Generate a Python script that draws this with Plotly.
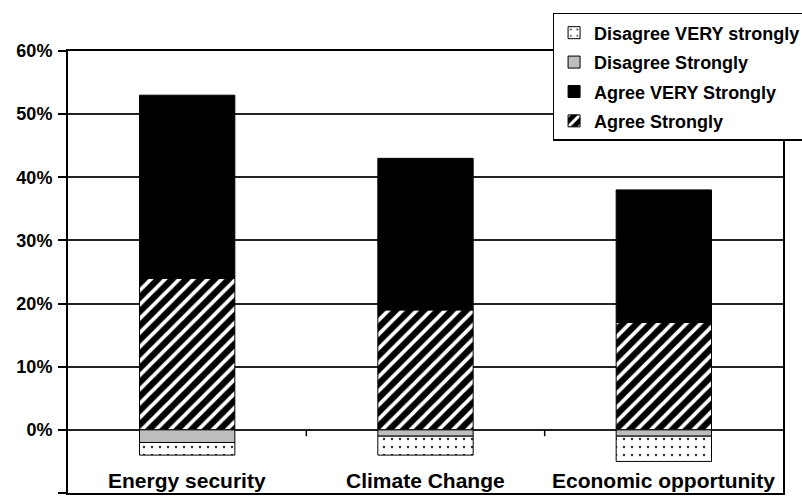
import plotly.graph_objects as go

categories = ["Energy security", "Climate Change", "Economic opportunity"]
agree_strongly = [24, 19, 17]
agree_very_strongly = [29, 24, 21]
disagree_strongly = [-2, -1, -1]
disagree_very_strongly = [-2, -3, -4]

y_ticks = [-10, 0, 10, 20, 30, 40, 50, 60]
y_tick_labels = [f"{v}%" for v in y_ticks]

FONT = "Liberation Sans, Arial, sans-serif"

fig = go.Figure()

series = [
    ("Agree Strongly", agree_strongly,
     dict(color="black", pattern=dict(shape="/", bgcolor="black", fgcolor="white",
                                       size=10, solidity=0.38, fillmode="replace"))),
    ("Agree VERY Strongly", agree_very_strongly, dict(color="black")),
    ("Disagree Strongly", disagree_strongly, dict(color="#bdbdbd")),
    ("Disagree VERY strongly", disagree_very_strongly,
     dict(color="white", pattern=dict(shape=".", bgcolor="white", fgcolor="#333333",
                                       size=8, solidity=0.08, fillmode="replace"))),
]

for i, (name, vals, marker) in enumerate(series):
    marker = dict(marker)
    marker["line"] = dict(color="black", width=1)
    fig.add_trace(go.Bar(
        x=categories, y=vals, name=name, marker=marker, width=0.4,
        legendgroup=f"g{i}", legendrank=100 - i,
    ))

# category labels sit inside the frame, just above the bottom axis
for c in categories:
    fig.add_annotation(x=c, y=-8, xref="x", yref="y", text=c, showarrow=False,
                       font=dict(family=FONT, size=21, color="black", weight="bold"),
                       xanchor="center", yanchor="middle")

# small category separator ticks hanging off the 0% line
for pos in [0.5, 1.5]:
    fig.add_shape(type="line", xref="x", yref="y", x0=pos, x1=pos, y0=0, y1=-1,
                  line=dict(color="black", width=1.5), layer="above")

fig.update_layout(
    width=802, height=499,
    margin=dict(l=68, r=19, t=51, b=6, autoexpand=False),
    paper_bgcolor="white", plot_bgcolor="white",
    barmode="relative",
    font=dict(family=FONT, color="black", weight="bold"),
    legend=dict(
        xref="container", yref="container",
        x=0.689, y=0.974, xanchor="left", yanchor="top",
        traceorder="grouped", tracegroupgap=3,
        bgcolor="white", bordercolor="black", borderwidth=1.5,
        font=dict(family=FONT, size=18, color="black", weight="bold"),
        itemwidth=30,
    ),
    xaxis=dict(
        showticklabels=False, ticks="", showgrid=False,
        showline=True, linecolor="black", linewidth=2, mirror=True,
        range=[-0.5, 2.5],
    ),
    yaxis=dict(
        range=[-10, 60], tickvals=y_ticks, ticktext=y_tick_labels,
        ticks="outside", ticklen=8, tickcolor="black", tickwidth=1.5,
        showgrid=True, gridcolor="#222222", gridwidth=1.5,
        zeroline=False,
        showline=True, linecolor="black", linewidth=2, mirror=True,
        tickfont=dict(family=FONT, size=18, color="black", weight="bold"),
        ticklabelstandoff=2,
    ),
)

fig.write_html("out.html")
